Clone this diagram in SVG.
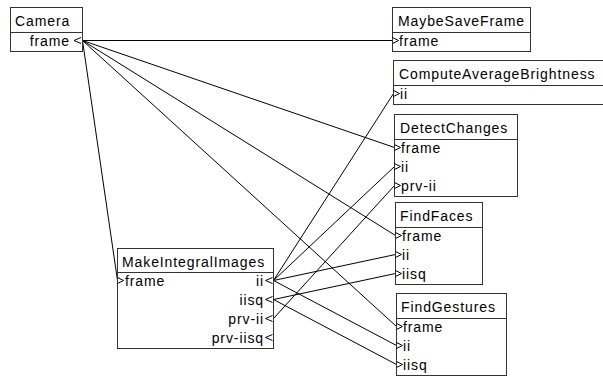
<svg xmlns="http://www.w3.org/2000/svg" width="603" height="376" viewBox="0 0 603 376">
<style>
.bg{fill:#fff}
.box{fill:#fff;stroke:#333;stroke-width:1;shape-rendering:crispEdges}
.div{stroke:#333;stroke-width:1;shape-rendering:crispEdges}
.t{font-family:"Liberation Sans",Arial,sans-serif;font-size:14px;letter-spacing:0.9px;fill:#000}
.r{text-anchor:end}
.port{fill:none;stroke:#000;stroke-width:1}
.wire{fill:none;stroke:#000;stroke-width:1}
</style>
<rect class="bg" x="0" y="0" width="603" height="376"/>
<g id="connectors">
<line class="wire" x1="82.5" y1="40.5" x2="392.5" y2="40.5"/>
<line class="wire" x1="82.5" y1="40.5" x2="394.5" y2="147.5"/>
<line class="wire" x1="82.5" y1="40.5" x2="395.5" y2="235.5"/>
<line class="wire" x1="82.5" y1="40.5" x2="396.5" y2="326.5"/>
<line class="wire" x1="82.5" y1="40.5" x2="117.5" y2="280.5"/>
<line class="wire" x1="273.5" y1="280.5" x2="393.5" y2="93.5"/>
<line class="wire" x1="273.5" y1="280.5" x2="394.5" y2="166.5"/>
<line class="wire" x1="273.5" y1="280.5" x2="395.5" y2="254.5"/>
<line class="wire" x1="273.5" y1="280.5" x2="396.5" y2="345.5"/>
<line class="wire" x1="273.5" y1="299.5" x2="395.5" y2="273.5"/>
<line class="wire" x1="273.5" y1="299.5" x2="396.5" y2="364.5"/>
<line class="wire" x1="273.5" y1="318.5" x2="394.5" y2="185.5"/>
</g>
<g id="Camera">
<rect class="box" x="10.5" y="7.5" width="72" height="44"/>
<line class="div" x1="10.5" y1="32.5" x2="82.5" y2="32.5"/>
<text class="t" x="15" y="26">Camera</text>
<text class="t r" x="70" y="46">frame</text>
<polyline class="port" points="81,37.5 74,40.5 81,43.5"/>
</g>
<g id="MaybeSaveFrame">
<rect class="box" x="392.5" y="7.5" width="138" height="44"/>
<line class="div" x1="392.5" y1="32.5" x2="530.5" y2="32.5"/>
<text class="t" x="398" y="26">MaybeSaveFrame</text>
<text class="t" x="399" y="46">frame</text>
<polyline class="port" points="392.5,37.5 398.5,40.5 392.5,43.5"/>
</g>
<g id="ComputeAverageBrightness">
<rect class="box" x="393.5" y="60.5" width="215" height="44"/>
<line class="div" x1="393.5" y1="85.5" x2="608.5" y2="85.5"/>
<text class="t" x="399" y="79">ComputeAverageBrightness</text>
<text class="t" x="400" y="99">ii</text>
<polyline class="port" points="393.5,90.5 399.5,93.5 393.5,96.5"/>
</g>
<g id="DetectChanges">
<rect class="box" x="394.5" y="114.5" width="123" height="82"/>
<line class="div" x1="394.5" y1="139.5" x2="517.5" y2="139.5"/>
<text class="t" x="400" y="133">DetectChanges</text>
<text class="t" x="401" y="153">frame</text>
<text class="t" x="401" y="172">ii</text>
<text class="t" x="401" y="191">prv-ii</text>
<polyline class="port" points="394.5,144.5 400.5,147.5 394.5,150.5"/>
<polyline class="port" points="394.5,163.5 400.5,166.5 394.5,169.5"/>
<polyline class="port" points="394.5,182.5 400.5,185.5 394.5,188.5"/>
</g>
<g id="FindFaces">
<rect class="box" x="395.5" y="202.5" width="87" height="82"/>
<line class="div" x1="395.5" y1="227.5" x2="482.5" y2="227.5"/>
<text class="t" x="400" y="221">FindFaces</text>
<text class="t" x="402" y="241">frame</text>
<text class="t" x="402" y="260">ii</text>
<text class="t" x="402" y="279">iisq</text>
<polyline class="port" points="395.5,232.5 401.5,235.5 395.5,238.5"/>
<polyline class="port" points="395.5,251.5 401.5,254.5 395.5,257.5"/>
<polyline class="port" points="395.5,270.5 401.5,273.5 395.5,276.5"/>
</g>
<g id="FindGestures">
<rect class="box" x="396.5" y="293.5" width="110" height="82"/>
<line class="div" x1="396.5" y1="318.5" x2="506.5" y2="318.5"/>
<text class="t" x="401" y="312">FindGestures</text>
<text class="t" x="403" y="332">frame</text>
<text class="t" x="403" y="351">ii</text>
<text class="t" x="403" y="370">iisq</text>
<polyline class="port" points="396.5,323.5 402.5,326.5 396.5,329.5"/>
<polyline class="port" points="396.5,342.5 402.5,345.5 396.5,348.5"/>
<polyline class="port" points="396.5,361.5 402.5,364.5 396.5,367.5"/>
</g>
<g id="MakeIntegralImages">
<rect class="box" x="117.5" y="248.5" width="156" height="100"/>
<line class="div" x1="117.5" y1="272.5" x2="273.5" y2="272.5"/>
<text class="t" x="122" y="267">MakeIntegralImages</text>
<text class="t" x="125" y="286">frame</text>
<text class="t r" x="264" y="286">ii</text>
<text class="t r" x="264" y="305">iisq</text>
<text class="t r" x="264" y="324">prv-ii</text>
<text class="t r" x="264" y="343">prv-iisq</text>
<polyline class="port" points="117.5,277.5 123.5,280.5 117.5,283.5"/>
<polyline class="port" points="272.5,277.5 265.5,280.5 272.5,283.5"/>
<polyline class="port" points="272.5,296.5 265.5,299.5 272.5,302.5"/>
<polyline class="port" points="272.5,315.5 265.5,318.5 272.5,321.5"/>
<polyline class="port" points="272.5,334.5 265.5,337.5 272.5,340.5"/>
</g>
</svg>
